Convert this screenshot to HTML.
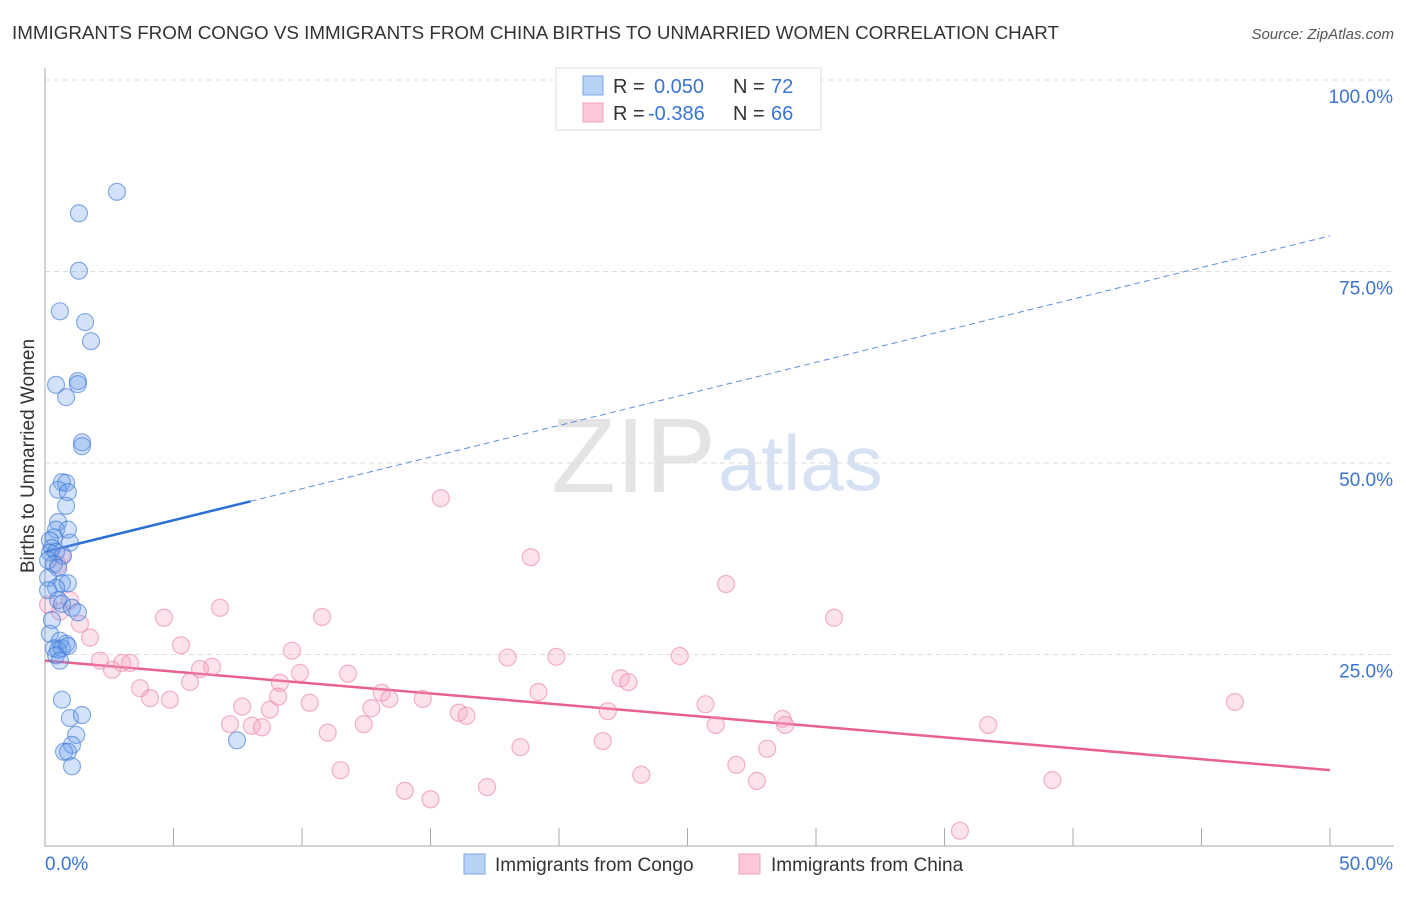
<!DOCTYPE html>
<html><head><meta charset="utf-8"><style>
body{margin:0;background:#fff;font-family:"Liberation Sans",sans-serif;}
svg text{font-family:"Liberation Sans",sans-serif;}
</style></head><body>
<svg id="chart" width="1406" height="892" viewBox="0 0 1406 892" xmlns="http://www.w3.org/2000/svg">
<text x="12" y="39" font-size="18.8" fill="#333">IMMIGRANTS FROM CONGO VS IMMIGRANTS FROM CHINA BIRTHS TO UNMARRIED WOMEN CORRELATION CHART</text>
<text x="1394" y="39" font-size="15" fill="#555" text-anchor="end" font-style="italic">Source: ZipAtlas.com</text>
<text x="716" y="492" font-size="106" fill="#e4e4e4" text-anchor="end" font-family="Liberation Serif">ZIP</text>
<text x="718" y="490" font-size="78" fill="#d6e2f3">atlas</text>
<g id="grid"></g>
<g id="axes"></g>
<g id="trend"></g>
<g id="points"></g>
<text transform="translate(34,456) rotate(-90)" font-size="19" fill="#333" text-anchor="middle">Births to Unmarried Women</text>
<g>
<rect x="556" y="68" width="265" height="62" fill="#fff" stroke="#ddd"/>
<rect x="583" y="76" width="20" height="19" fill="#b8d2f5" stroke="#7aa6e6"/>
<rect x="583" y="103" width="20" height="19" fill="#fcc8d8" stroke="#f0a0b8"/>
<text x="613" y="93" font-size="20" fill="#333">R = </text><text x="654" y="93" font-size="20" fill="#3a74d6">0.050</text>
<text x="733" y="93" font-size="20" fill="#333">N = </text><text x="771" y="93" font-size="20" fill="#3a74d6">72</text>
<text x="613" y="120" font-size="20" fill="#333">R = </text><text x="648" y="120" font-size="20" fill="#3a74d6">-0.386</text>
<text x="733" y="120" font-size="20" fill="#333">N = </text><text x="771" y="120" font-size="20" fill="#3a74d6">66</text>
</g>
<g>
<rect x="464" y="854" width="21" height="20" fill="#b8d2f5" stroke="#7aa6e6"/>
<text x="495" y="871" font-size="19" fill="#333">Immigrants from Congo</text>
<rect x="739" y="854" width="21" height="20" fill="#fcc8d8" stroke="#f0a0b8"/>
<text x="771" y="871" font-size="19" fill="#333">Immigrants from China</text>
</g>
</svg>
<script>
const yTicks=[25,50,75,100];
const yTickLabels=["25.0%","50.0%","75.0%","100.0%"];
const xTickValues=[0,5,10,15,20,25,30,35,40,45,50];
const congoX=[2.8,1.32,1.32,0.58,1.56,1.79,0.43,1.28,1.28,0.82,1.44,1.44,0.66,0.82,0.51,0.89,0.82,0.51,0.43,0.89,0.35,0.97,0.19,0.27,0.19,0.43,0.7,0.12,0.35,0.51,0.12,0.66,0.89,0.43,0.12,0.51,0.66,1.05,1.28,0.27,0.19,0.58,0.82,0.35,0.51,0.66,0.89,0.43,0.58,0.66,0.97,1.44,1.21,1.05,0.74,0.89,1.05,7.47];
const congoY=[85.4,82.6,75.1,69.8,68.4,65.9,60.2,60.7,60.3,58.6,52.7,52.2,47.5,47.4,46.5,46.2,44.4,42.3,41.3,41.3,40.3,39.6,39.9,38.9,38.3,38.4,37.9,37.3,36.8,36.3,35.0,34.3,34.3,33.7,33.4,32.1,31.6,31.1,30.5,29.5,27.7,26.8,26.4,25.8,25.6,25.8,26.1,24.9,24.2,19.1,16.7,17.1,14.5,13.2,12.3,12.3,10.4,13.8];
const chinaX=[15.4,18.9,26.5,30.7,6.81,4.63,10.78,5.29,9.61,1.75,1.36,0.66,0.51,2.14,2.61,3.0,3.31,6.5,6.03,3.7,4.09,4.86,5.64,9.07,9.92,11.79,18.0,19.9,24.7,22.4,22.7,19.2,13.1,13.4,14.7,12.7,9.14,10.3,7.67,8.75,8.05,8.44,7.2,12.4,16.1,16.4,21.9,25.7,28.7,26.1,28.8,11.0,18.5,21.7,28.1,26.9,23.2,11.5,14.0,15.0,17.2,27.7,36.7,39.2,35.6,46.3,0.12,0.97,0.58];
const chinaY=[45.4,37.7,34.2,29.8,31.1,29.8,29.9,26.2,25.5,27.2,29.0,37.9,36.7,24.2,23.0,23.9,23.9,23.4,23.1,20.6,19.3,19.1,21.4,19.5,22.6,22.5,24.6,24.7,24.8,21.9,21.4,20.1,20.0,19.2,19.2,18.0,21.3,18.7,18.2,17.8,15.7,15.5,15.9,15.9,17.4,17.0,17.6,18.5,16.6,15.8,15.8,14.8,12.9,13.7,12.7,10.6,9.3,9.9,7.2,6.1,7.7,8.5,15.8,8.6,2.0,18.8,31.5,32.1,30.6];
const congoTrend=[38.4,0.825];   // intercept, slope
const chinaTrend=[24.2,-0.286];
const congoSolidEnd=[8];
const NS="http://www.w3.org/2000/svg";
const X0=45,X1=1330,Y0=846,Y100=80;
function sx(v){return X0+(X1-X0)*v/50;}
function sy(v){return Y0-(Y0-Y100)*v/100;}
function mk(tag,attrs,parent){const e=document.createElementNS(NS,tag);for(const k in attrs)e.setAttribute(k,attrs[k]);parent.appendChild(e);return e;}
const grid=document.getElementById('grid'),axes=document.getElementById('axes'),trend=document.getElementById('trend'),pts=document.getElementById('points');
yTicks.forEach((t,i)=>{
 const l=mk('line',{x1:X0,x2:1394,y1:sy(t),y2:sy(t),stroke:'#ddd','stroke-dasharray':'5,4'},grid);
 
 
 const tx=mk('text',{x:1393,y:sy(t)+23,'font-size':19,fill:'#3a74d6','text-anchor':'end'},grid);
 tx.textContent=yTickLabels[i];
 
 
});
const ax=mk('path',{d:`M${X0},68 V${Y0} H1394`,stroke:'#aaa',fill:'none'},axes);


xTickValues.forEach(v=>{if(v===0)return;
 const t=mk('line',{x1:sx(v),x2:sx(v),y1:828,y2:Y0,stroke:'#aaa'},axes);
 
 
});
const xl=mk('text',{x:45,y:870,'font-size':19,fill:'#3a74d6'},axes);xl.textContent='0.0%';


const xr=mk('text',{x:1393,y:870,'font-size':19,fill:'#3a74d6','text-anchor':'end'},axes);xr.textContent='50.0%';


function dot(x,y,fill,stroke,name){const c=mk('circle',{cx:sx(x),cy:sy(y),r:8.5,fill:fill,stroke:stroke,'stroke-width':1.2},pts);
 
 }
chinaX.forEach((x,i)=>dot(x,chinaY[i],'rgba(245,160,190,0.3)','rgba(235,130,165,0.6)','china-point'));
congoX.forEach((x,i)=>dot(x,congoY[i],'rgba(110,160,235,0.3)','rgba(60,120,215,0.6)','congo-point'));
const ce=congoSolidEnd[0];
const cs=mk('line',{x1:sx(0),y1:sy(congoTrend[0]),x2:sx(ce),y2:sy(congoTrend[0]+congoTrend[1]*ce),stroke:'#2a6fd6','stroke-width':2.5},trend);


const cd=mk('line',{x1:sx(ce),y1:sy(congoTrend[0]+congoTrend[1]*ce),x2:sx(50),y2:sy(congoTrend[0]+congoTrend[1]*50),stroke:'#5a8fe0','stroke-width':1,'stroke-dasharray':'6,4'},trend);


const ch=mk('line',{x1:sx(0),y1:sy(chinaTrend[0]),x2:sx(50),y2:sy(chinaTrend[0]+chinaTrend[1]*50),stroke:'#e8608f','stroke-width':2.5},trend);


</script>
</body></html>
